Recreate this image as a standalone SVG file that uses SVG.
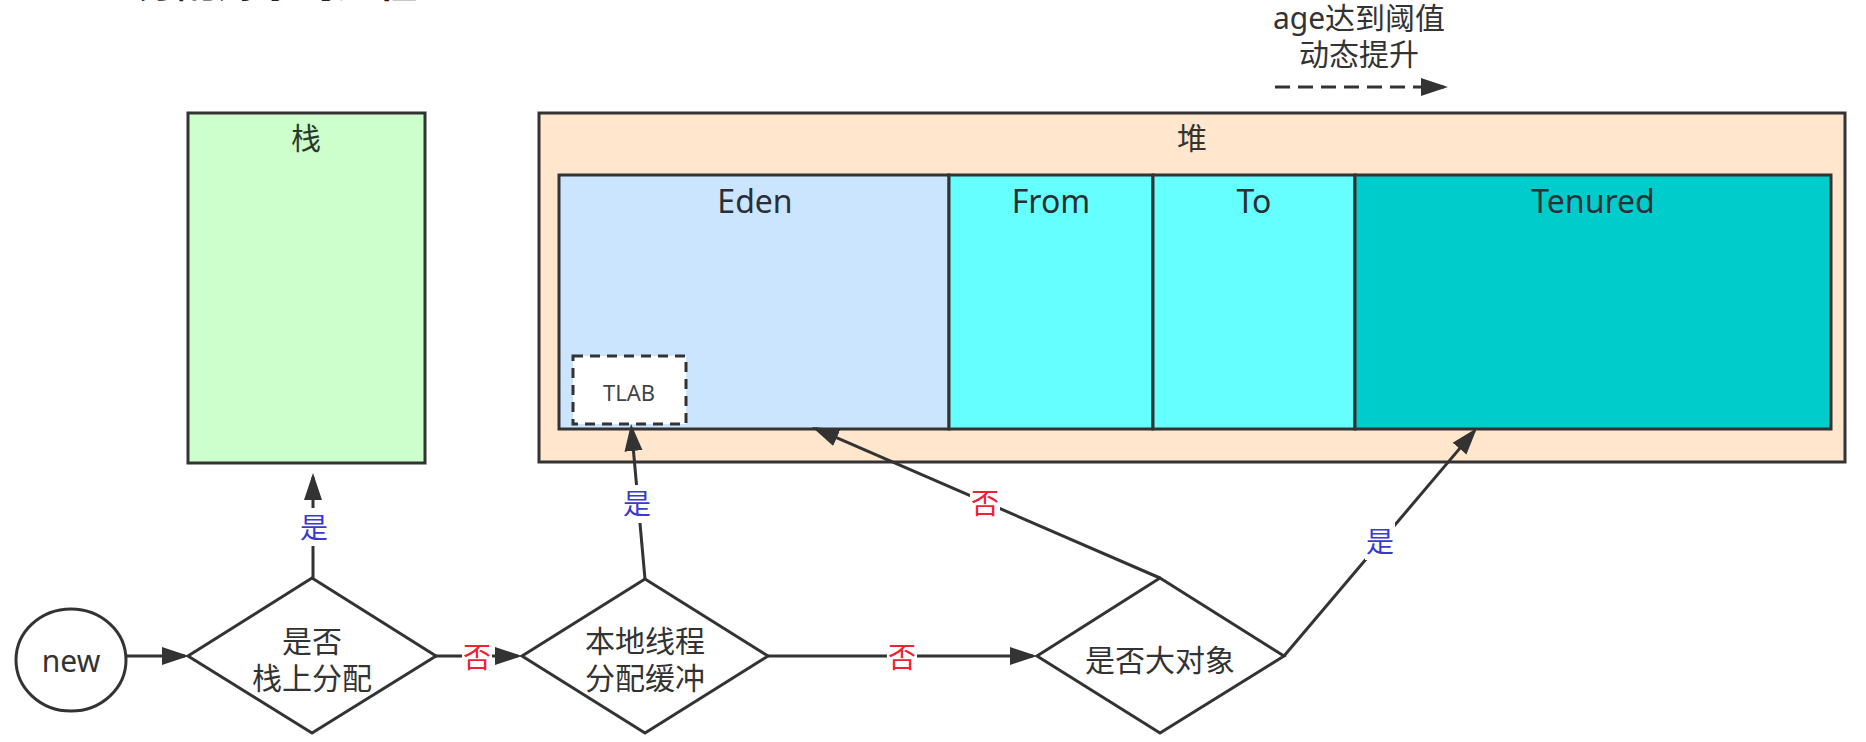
<svg xmlns="http://www.w3.org/2000/svg" width="1866" height="742" viewBox="0 0 1866 742">
<style>
  text { font-family: "Noto Sans", "Noto Sans CJK SC", sans-serif; text-anchor: middle; }
  .box { stroke: #333; stroke-width: 3; }
  .lbl { font-size: 30px; fill: #333; }
  .ttl { font-size: 32px; fill: #2a2f36; }
  .yes { font-size: 28px; fill: #3a3ad0; }
  .no { font-size: 28px; fill: #ee2233; }
  .conn { stroke: #333; stroke-width: 3; fill: none; marker-end: url(#arr); }
  .bg { fill: #fff; }
</style>
<defs>
  <marker id="arr" markerUnits="userSpaceOnUse" markerWidth="28" markerHeight="20" refX="23" refY="9" orient="auto" viewBox="0 0 28 18">
    <path d="M0,0 L27,9 L0,18 z" fill="#333" stroke="none"/>
  </marker>
</defs>

<g id="title">
  <text x="137" y="-3" style="font-size:40px;fill:#222;text-anchor:start;font-weight:bold">分配对象的过程</text>
</g>

<g id="stack">
  <rect class="box" x="188" y="113" width="237" height="350" fill="#CCFFCC"/>
  <text class="lbl" x="306" y="149" style="fill:#2a3a2a">栈</text>
</g>

<g id="heap">
  <rect class="box" x="539" y="113" width="1306" height="349" fill="#FFE6CC"/>
  <text class="lbl" x="1192" y="149">堆</text>
</g>
<g id="eden">
  <rect class="box" x="559" y="175" width="390" height="254" fill="#CCE5FF"/>
  <text class="ttl" x="755" y="213">Eden</text>
</g>
<g id="from">
  <rect class="box" x="949" y="175" width="204" height="254" fill="#66FFFF"/>
  <text class="ttl" x="1051" y="213">From</text>
</g>
<g id="to">
  <rect class="box" x="1153" y="175" width="202" height="254" fill="#66FFFF"/>
  <text class="ttl" x="1254" y="213">To</text>
</g>
<g id="tenured">
  <rect class="box" x="1355" y="175" width="476" height="254" fill="#00CCCC"/>
  <text class="ttl" x="1593" y="213">Tenured</text>
</g>
<g id="tlab">
  <rect x="573" y="356" width="113" height="68" fill="#fff" stroke="#333" stroke-width="3" stroke-dasharray="10 7"/>
  <text x="629" y="401" style="font-size:22px;fill:#444">TLAB</text>
</g>

<g id="promote">
  <text class="lbl" x="1359" y="29">age达到阈值</text>
  <text class="lbl" x="1359" y="65">动态提升</text>
</g>

<g id="new">
  <ellipse cx="71" cy="660" rx="55" ry="51" fill="#fff" stroke="#333" stroke-width="3"/>
  <text class="lbl" x="71" y="672">new</text>
</g>
<g id="d1">
  <polygon points="312,578 436,656 312,733 188,656" fill="#fff" stroke="#333" stroke-width="3"/>
  <text class="lbl" x="312" y="652">是否</text>
  <text class="lbl" x="312" y="689">栈上分配</text>
</g>
<g id="d2">
  <polygon points="645,579 768,656 645,733 522,656" fill="#fff" stroke="#333" stroke-width="3"/>
  <text class="lbl" x="645" y="652">本地线程</text>
  <text class="lbl" x="645" y="689">分配缓冲</text>
</g>
<g id="d3">
  <polygon points="1160,578 1284,656 1160,733 1037,656" fill="#fff" stroke="#333" stroke-width="3"/>
  <text class="lbl" x="1160" y="671">是否大对象</text>
</g>

<g id="connectors">
  <line class="conn" x1="126" y1="656" x2="185" y2="656"/>
  <line class="conn" x1="313" y1="578" x2="313" y2="477"/>
  <line class="conn" x1="436" y1="656" x2="518" y2="656"/>
  <line class="conn" x1="645" y1="579" x2="631.4" y2="428"/>
  <line class="conn" x1="768" y1="656" x2="1033" y2="656"/>
  <line class="conn" x1="1160" y1="578" x2="815.7" y2="428.6"/>
  <line class="conn" x1="1284" y1="656" x2="1474.4" y2="431.1"/>
  <line class="conn" x1="1275" y1="87" x2="1444" y2="87" stroke-width="4" stroke-dasharray="15 8"/>

  <rect class="bg" x="299" y="508" width="30" height="38"/>
  <text class="yes" x="314" y="538">是</text>
  <rect class="bg" x="462" y="640" width="30" height="36"/>
  <text class="no" x="477" y="668">否</text>
  <rect class="bg" x="622" y="485" width="30" height="38"/>
  <text class="yes" x="637" y="514">是</text>
  <rect class="bg" x="887" y="640" width="30" height="36"/>
  <text class="no" x="902" y="668">否</text>
  <rect class="bg" x="970" y="486" width="30" height="36"/>
  <text class="no" x="985" y="514">否</text>
  <rect class="bg" x="1365" y="523" width="30" height="37"/>
  <text class="yes" x="1380" y="552">是</text>
</g>
</svg>
